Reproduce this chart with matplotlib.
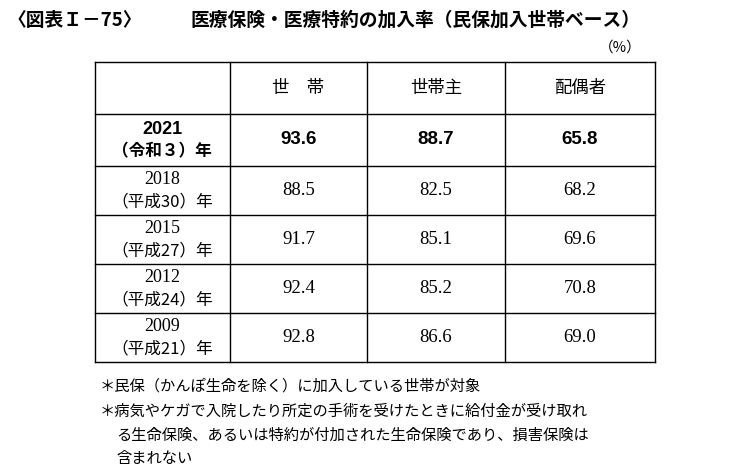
import matplotlib
matplotlib.use("Agg")
import matplotlib.pyplot as plt

plt.rcParams['font.family'] = ['Noto Sans CJK JP', 'DejaVu Sans']

columns = ["世　帯", "世帯主", "配偶者"]
years = ["2021", "2018", "2015", "2012", "2009"]
eras = ["（令和３）年", "（平成30）年", "（平成27）年", "（平成24）年", "（平成21）年"]
household = [93.6, 88.5, 91.7, 92.4, 92.8]
head = [88.7, 82.5, 85.1, 85.2, 86.6]
spouse = [65.8, 68.2, 69.6, 70.8, 69.0]

fig = plt.figure(figsize=(7.33, 4.70), dpi=100)
ax = fig.add_axes([0, 0, 1, 1])
ax.set_xlim(0, 733); ax.set_ylim(470, 0); ax.axis('off')

ax.text(8, 20, "〈図表Ｉ－75〉", fontsize=13.5, fontweight='bold', va='center')
ax.text(190, 20, "医療保険・医療特約の加入率（民保加入世帯ベース）", fontsize=13.5, fontweight='bold', va='center')
ax.text(642, 48, "（%）", fontsize=10.5, va='center', ha='right')

xs = [95, 230, 367, 505, 655]
ys = [62, 114, 166, 215, 264, 313, 362]
for x in xs:
    ax.plot([x, x], [ys[0], ys[-1]], color='black', lw=1.0)
for y in ys:
    ax.plot([xs[0], xs[-1]], [y, y], color='black', lw=1.0)

for j, c in enumerate(columns):
    ax.text((xs[j+1] + xs[j+2]) / 2, 88, c, fontsize=12.5, ha='center', va='center')

for i in range(len(years)):
    top, bot = ys[i+1], ys[i+2]
    mid = (top + bot) / 2
    bold = i == 0
    numfam = ['Liberation Sans'] if bold else ['Liberation Serif']
    fw = 'bold' if bold else 'normal'
    ax.text(162, mid - 11, years[i], fontsize=13, ha='center', va='center', family=numfam, fontweight=fw)
    ax.text(162, mid + 11, eras[i], fontsize=12, ha='center', va='center', fontweight=fw)
    for j, vals in enumerate([household, head, spouse]):
        ax.text((xs[j+1] + xs[j+2]) / 2, mid, f"{vals[i]:.1f}", fontsize=13.5,
                ha='center', va='center', family=numfam, fontweight=fw)

notes = [(100, 386, "＊民保（かんぽ生命を除く）に加入している世帯が対象"),
         (100, 411, "＊病気やケガで入院したり所定の手術を受けたときに給付金が受け取れ"),
         (116, 435, "る生命保険、あるいは特約が付加された生命保険であり、損害保険は"),
         (116, 459, "含まれない")]
for x, y, t in notes:
    ax.text(x, y, t, fontsize=11, va='center')

fig.savefig("out.png", dpi=100)
